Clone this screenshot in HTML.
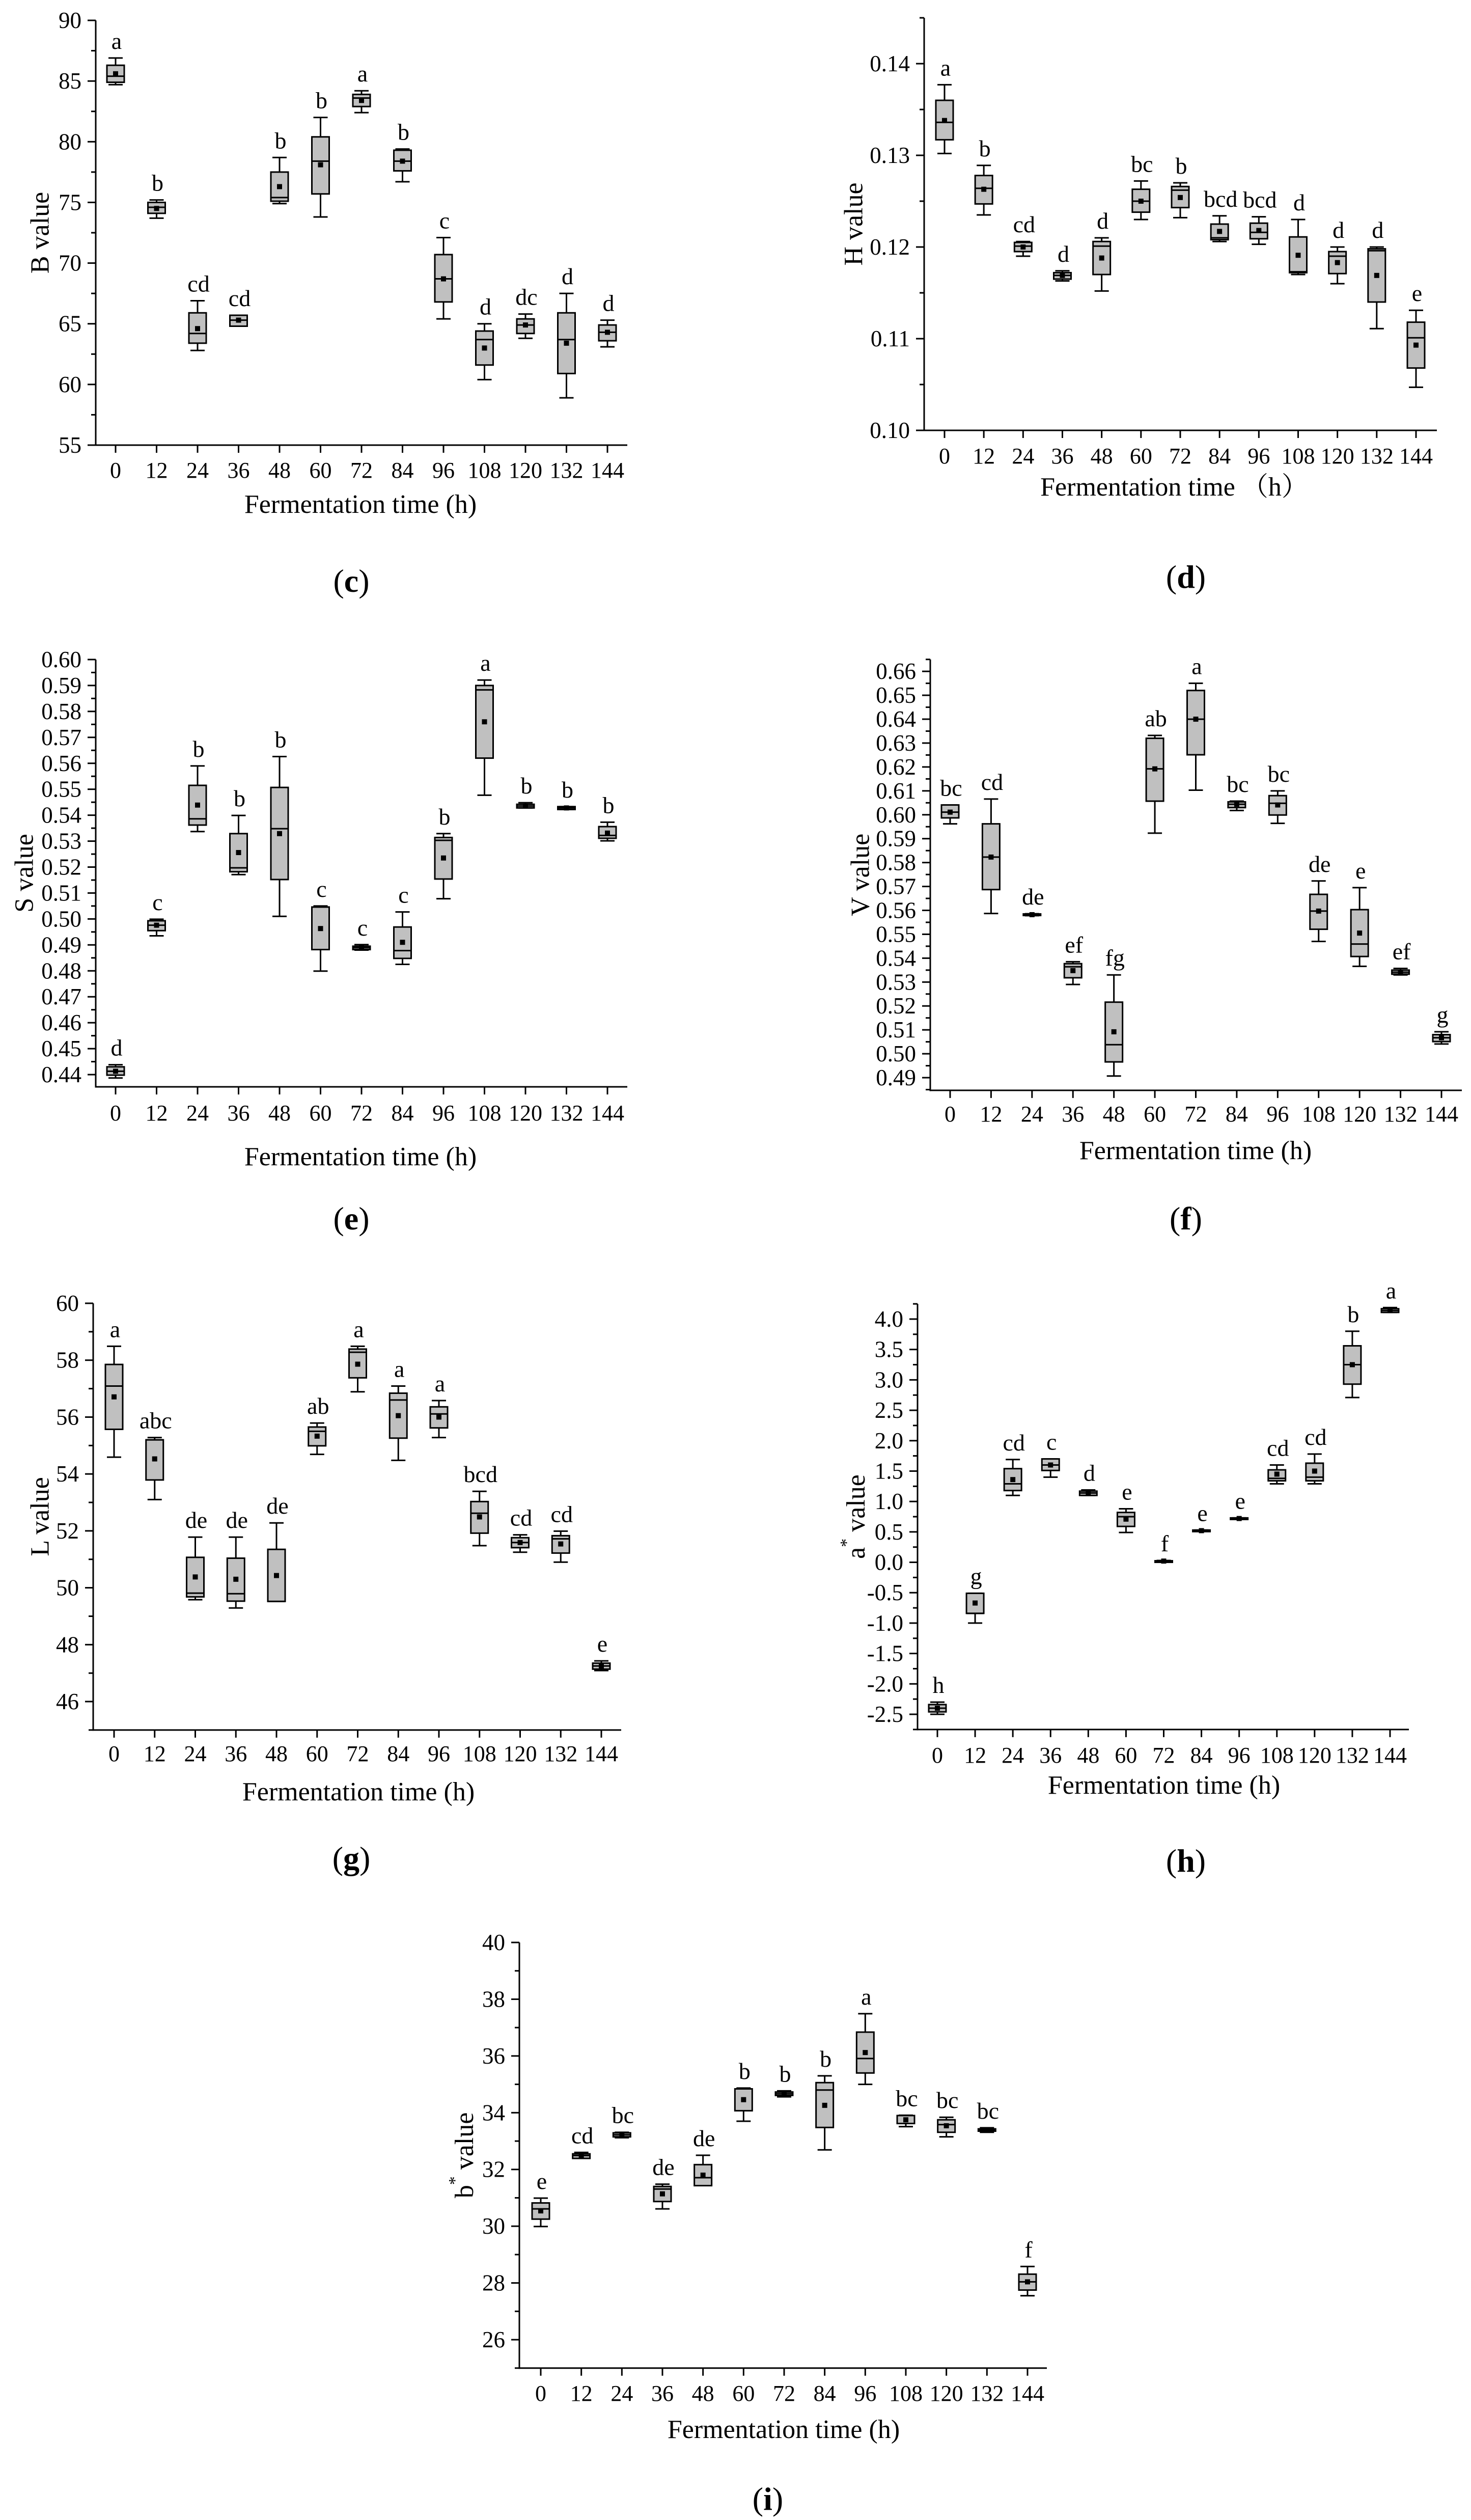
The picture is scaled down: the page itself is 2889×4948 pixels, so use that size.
<!DOCTYPE html>
<html><head><meta charset="utf-8">
<style>
html,body{margin:0;padding:0;background:#fff;}
svg{display:block;font-family:"Liberation Serif","Noto Serif CJK SC",serif;}
</style></head>
<body>
<svg id="fig" width="2889" height="4948" viewBox="0 0 2889 4948" xmlns="http://www.w3.org/2000/svg"></svg>
<script>
// shared categories
const categories = [0,12,24,36,48,60,72,84,96,108,120,132,144];
// each row: [whiskerLow, q1, median, q3, whiskerHigh, mean]
const bStats = [[84.7,84.9,85.4,86.3,86.9,85.6],[73.7,74.1,74.6,75.0,75.2,74.5],[62.8,63.4,64.2,65.9,66.9,64.6],[64.8,64.8,65.3,65.7,65.7,65.3],[74.9,75.1,75.4,77.5,78.7,76.3],[73.8,75.7,78.4,80.4,82.0,78.1],[82.4,82.9,83.6,83.9,84.2,83.4],[76.7,77.6,78.4,79.3,79.4,78.4],[65.4,66.8,68.7,70.7,72.1,68.7],[60.4,61.6,63.7,64.4,65.0,63.0],[63.8,64.2,64.9,65.4,65.8,64.9],[58.9,60.9,63.7,65.9,67.5,63.4],[63.1,63.6,64.3,64.9,65.3,64.3]];
const bLetters = ["a","b","cd","cd","b","b","a","b","c","d","dc","d","d"];
const hStats = [[0.1302,0.1317,0.1336,0.1360,0.1377,0.1338],[0.1235,0.1247,0.1264,0.1278,0.1289,0.1263],[0.1190,0.1195,0.1201,0.1205,0.1206,0.1200],[0.1163,0.1165,0.1169,0.1172,0.1174,0.1169],[0.1152,0.1170,0.1201,0.1206,0.1210,0.1188],[0.1230,0.1238,0.1250,0.1263,0.1272,0.1250],[0.1232,0.1243,0.1262,0.1266,0.1270,0.1254],[0.1206,0.1208,0.1210,0.1225,0.1234,0.1217],[0.1203,0.1209,0.1216,0.1226,0.1233,0.1218],[0.1170,0.1172,0.1173,0.1211,0.1230,0.1191],[0.1160,0.1171,0.1190,0.1195,0.1200,0.1183],[0.1111,0.1140,0.1196,0.1198,0.1200,0.1169],[0.1047,0.1068,0.1101,0.1118,0.1131,0.1093]];
const hLetters = ["a","b","cd","d","d","bc","b","bcd","bcd","d","d","d","e"];
const sStats = [[0.4387,0.4398,0.4413,0.4430,0.4438,0.4413],[0.4935,0.4955,0.4976,0.4993,0.4999,0.4976],[0.5337,0.5362,0.5386,0.5515,0.5590,0.5439],[0.5171,0.5182,0.5197,0.5329,0.5399,0.5256],[0.5010,0.5152,0.5348,0.5507,0.5626,0.5329],[0.4799,0.4882,0.5046,0.5046,0.5050,0.4963],[0.4880,0.4882,0.4889,0.4895,0.4901,0.4889],[0.4825,0.4848,0.4878,0.4969,0.5027,0.4910],[0.5078,0.5154,0.5303,0.5314,0.5329,0.5235],[0.5477,0.5620,0.5883,0.5900,0.5921,0.5760],[0.5428,0.5428,0.5435,0.5442,0.5448,0.5435],[0.5422,0.5422,0.5428,0.5433,0.5433,0.5428],[0.5301,0.5311,0.5322,0.5356,0.5373,0.5331]];
const sLetters = ["d","c","b","b","b","c","c","c","b","a","b","b","b"];
const vStats = [[0.5962,0.5987,0.6011,0.6041,0.6041,0.6011],[0.5587,0.5687,0.5823,0.5962,0.6066,0.5823],[0.5578,0.5579,0.5582,0.5585,0.5586,0.5582],[0.5290,0.5318,0.5364,0.5377,0.5385,0.5348],[0.4907,0.4966,0.5038,0.5216,0.5330,0.5092],[0.5923,0.6057,0.6192,0.6320,0.6332,0.6192],[0.6103,0.6251,0.6400,0.6520,0.6550,0.6400],[0.6018,0.6030,0.6044,0.6054,0.6057,0.6044],[0.5964,0.5999,0.6048,0.6080,0.6100,0.6041],[0.5470,0.5521,0.5597,0.5667,0.5723,0.5597],[0.5366,0.5407,0.5459,0.5603,0.5695,0.5505],[0.5330,0.5333,0.5341,0.5350,0.5357,0.5341],[0.5041,0.5051,0.5067,0.5080,0.5092,0.5067]];
const vLetters = ["bc","cd","de","ef","fg","ab","a","bc","bc","de","e","ef","g"];
const lStats = [[54.59,55.57,57.09,57.85,58.49,56.71],[53.10,53.79,55.20,55.20,55.28,54.53],[49.58,49.68,49.81,51.07,51.78,50.38],[49.29,49.53,49.79,51.04,51.78,50.30],[49.52,49.52,49.52,51.35,52.28,50.43],[54.69,54.99,55.50,55.65,55.79,55.33],[56.89,57.38,58.28,58.39,58.49,57.86],[54.48,55.26,56.60,56.84,57.09,56.05],[55.28,55.62,56.11,56.36,56.58,56.00],[51.48,51.92,52.62,53.03,53.39,52.49],[51.25,51.41,51.59,51.76,51.86,51.59],[50.90,51.22,51.72,51.83,51.99,51.54],[47.09,47.14,47.25,47.35,47.43,47.25]];
const lLetters = ["a","abc","de","de","de","ab","a","a","a","bcd","cd","cd","e"];
const aStats = [[-2.50,-2.46,-2.40,-2.34,-2.30,-2.40],[-1.00,-0.84,-0.84,-0.51,-0.51,-0.67],[1.10,1.18,1.29,1.54,1.69,1.36],[1.40,1.51,1.60,1.70,1.70,1.60],[1.10,1.10,1.14,1.17,1.19,1.14],[0.49,0.59,0.75,0.82,0.88,0.71],[0.01,0.015,0.02,0.025,0.03,0.02],[0.51,0.51,0.52,0.53,0.53,0.52],[0.71,0.71,0.72,0.73,0.73,0.72],[1.29,1.34,1.38,1.52,1.60,1.45],[1.29,1.34,1.40,1.63,1.78,1.50],[2.71,2.93,3.25,3.56,3.80,3.25],[4.11,4.11,4.14,4.17,4.19,4.14]];
const aLetters = ["h","g","cd","c","d","e","f","e","e","cd","cd","b","a"];
const bsStats = [[29.99,30.25,30.61,30.82,30.99,30.54],[32.39,32.39,32.49,32.55,32.60,32.49],[33.12,33.15,33.22,33.29,33.31,33.22],[30.61,30.87,31.31,31.40,31.48,31.14],[31.61,31.43,31.71,32.17,32.50,31.80],[33.70,34.07,34.84,34.84,34.87,34.46],[34.56,34.61,34.67,34.73,34.77,34.67],[32.69,33.48,34.80,35.06,35.30,34.26],[35.00,35.40,35.91,36.84,37.49,36.12],[33.51,33.62,33.62,33.90,33.91,33.75],[33.15,33.31,33.58,33.75,33.84,33.54],[33.31,33.35,33.39,33.43,33.47,33.39],[27.55,27.75,28.04,28.31,28.58,28.04]];
const bsLetters = ["e","cd","bc","de","de","b","b","b","a","bc","bc","bc","f"];
</script>
<script>
const NS="http://www.w3.org/2000/svg";
const svg=document.getElementById('fig');
function mk(tag,attrs,parent,text){const e=document.createElementNS(NS,tag);for(const k in attrs)e.setAttribute(k,attrs[k]);if(text!==undefined)e.textContent=text;(parent||svg).appendChild(e);return e;}

const panels=[
 {id:'c',stats:bStats,letters:bLetters,ax:188,right:1232,v1:90,y1:40,v2:55,y2:874,lo:55,hi:90,labLo:55,labHi:90,major:5,minor:2.5,dec:0,x0:227,x144:1193,tickY:922,titleY:990,titleX:708,title:'Fermentation time (h)',yt:'B value',ytX:79,cap:'c',capX:690,capY:1140},
 {id:'d',stats:hStats,letters:hLetters,ax:1815,right:2822,v1:0.14,y1:125,v2:0.10,y2:845,lo:0.10,hi:0.145,labLo:0.10,labHi:0.14,major:0.01,minor:0.005,dec:2,x0:1855,x144:2781,tickY:894,titleY:956,titleX:2306,title:'Fermentation time （h）',yt:'H value',ytX:1677,cap:'d',capX:2329,capY:1132},
 {id:'e',stats:sStats,letters:sLetters,ax:188,right:1232,v1:0.60,y1:1295,v2:0.44,y2:2110,lo:0.4353,hi:0.60,labLo:0.44,labHi:0.60,major:0.01,minor:0.005,dec:2,x0:227,x144:1193,tickY:2184,titleY:2271,titleX:708,title:'Fermentation time (h)',yt:'S value',ytX:48,cap:'e',capX:690,capY:2392},
 {id:'f',stats:vStats,letters:vLetters,ax:1827,right:2871,v1:0.63,y1:1459,v2:0.49,y2:2116,lo:0.4847,hi:0.665,labLo:0.49,labHi:0.66,major:0.01,minor:0.005,dec:2,x0:1866,x144:2831,tickY:2186,titleY:2259,titleX:2348,title:'Fermentation time (h)',yt:'V value',ytX:1690,cap:'f',capX:2329,capY:2392},
 {id:'g',stats:lStats,letters:lLetters,ax:183,right:1220,v1:60,y1:2559,v2:46,y2:3341,lo:45,hi:60,labLo:46,labHi:60,major:2,minor:1,dec:0,x0:224,x144:1181,tickY:3442,titleY:3518,titleX:704,title:'Fermentation time (h)',yt:'L value',ytX:79,cap:'g',capX:690,capY:3648},
 {id:'h',stats:aStats,letters:aLetters,ax:1802,right:2767,v1:4.0,y1:2590,v2:-2.5,y2:3366,lo:-2.75,hi:4.25,labLo:-2.5,labHi:4.0,major:0.5,minor:0.25,dec:1,x0:1841,x144:2730,tickY:3445,titleY:3505,titleX:2286,title:'Fermentation time (h)',yt:'a* value',ytX:1681,cap:'h',capX:2329,capY:3653},
 {id:'i',stats:bsStats,letters:bsLetters,ax:1020,right:2056,v1:40,y1:3814,v2:26,y2:4594,lo:25,hi:40,labLo:26,labHi:40,major:2,minor:1,dec:0,x0:1062,x144:2018,tickY:4698,titleY:4770,titleX:1539,title:'Fermentation time (h)',yt:'b* value',ytX:912,cap:'i',capX:1508,capY:4906}
];

panels.forEach(p=>{
  const g=mk('g',{});
  
  
  const Y=v=>p.y1+(v-p.v1)*(p.y2-p.y1)/(p.v2-p.v1);
  const X=c=>p.x0+(c-categories[0])*(p.x144-p.x0)/(categories[categories.length-1]-categories[0]);
  const yTop=Y(p.hi), yBot=Y(p.lo);
  const ya=mk('line',{x1:p.ax,y1:yTop,x2:p.ax,y2:yBot+1.5,stroke:'#000','stroke-width':3},g);
  
  
  const xa=mk('line',{x1:p.ax-1.5,y1:yBot,x2:p.right,y2:yBot,stroke:'#000','stroke-width':3},g);
  
  
  const nMin=Math.ceil((p.lo-1e-9)/p.minor), nMax=Math.floor((p.hi+1e-9)/p.minor);
  for(let n=nMin;n<=nMax;n++){
    const v=n*p.minor; const y=Y(v);
    const isMajor=Math.abs(v/p.major-Math.round(v/p.major))<1e-6;
    const t=mk('line',{x1:p.ax-(isMajor?16:9),y1:y,x2:p.ax,y2:y,stroke:'#000','stroke-width':3},g);
    
    
    if(isMajor && v>=p.labLo-1e-9 && v<=p.labHi+1e-9){
      const lab=mk('text',{x:p.ax-28,y:y+15,'text-anchor':'end','font-size':45},g,v.toFixed(p.dec));
      
      
    }
  }
  categories.forEach(c=>{
    const x=X(c);
    const t=mk('line',{x1:x,y1:yBot,x2:x,y2:yBot+15,stroke:'#000','stroke-width':3},g);
    
    
    const lab=mk('text',{x:x,y:p.tickY+16,'text-anchor':'middle','font-size':44},g,String(c));
    
    
  });
  p.stats.forEach((s,i)=>{
    const x=X(categories[i]);
    const [wl,q1,md,q3,wh,mn]=s;
    const bg=mk('g',{},g);
    
    
    mk('line',{x1:x,y1:Y(wh),x2:x,y2:Y(wl),stroke:'#000','stroke-width':3},bg);
    mk('line',{x1:x-14,y1:Y(wh),x2:x+14,y2:Y(wh),stroke:'#000','stroke-width':3},bg);
    mk('line',{x1:x-14,y1:Y(wl),x2:x+14,y2:Y(wl),stroke:'#000','stroke-width':3},bg);
    const top=Y(q3),bot=Y(q1);
    mk('rect',{x:x-17,y:top,width:34,height:Math.max(bot-top,3),fill:'#c0c0c0',stroke:'#000','stroke-width':3},bg);
    mk('line',{x1:x-17,y1:Y(md),x2:x+17,y2:Y(md),stroke:'#000','stroke-width':3},bg);
    mk('rect',{x:x-5,y:Y(mn)-5,width:10,height:10,fill:'#000'},bg);
    const lt=mk('text',{x:x+2,y:Y(wh)-18,'text-anchor':'middle','font-size':46},g,p.letters[i]);
    
    
  });
  const xt=mk('text',{x:p.titleX,y:p.titleY+17,'text-anchor':'middle','font-size':52},g,p.title);
  
  
  const ymid=(yTop+yBot)/2;
  const yt=mk('text',{x:p.ytX,y:ymid,'text-anchor':'middle','font-size':52,transform:'rotate(-90 '+p.ytX+' '+ymid+')','dominant-baseline':'central'},g);
  
  
  if(p.yt.indexOf('*')>0){
    const parts=p.yt.split('*');
    mk('tspan',{},yt,parts[0]);
    mk('tspan',{'baseline-shift':'super','font-size':34},yt,'*');
    mk('tspan',{},yt,parts[1]);
  } else yt.textContent=p.yt;
  const cp=mk('text',{x:p.capX,y:p.capY+22,'text-anchor':'middle','font-size':64},g);
  
  
  mk('tspan',{},cp,'(');
  mk('tspan',{'font-weight':'bold'},cp,p.cap);
  mk('tspan',{},cp,')');
});
</script>
</body></html>
